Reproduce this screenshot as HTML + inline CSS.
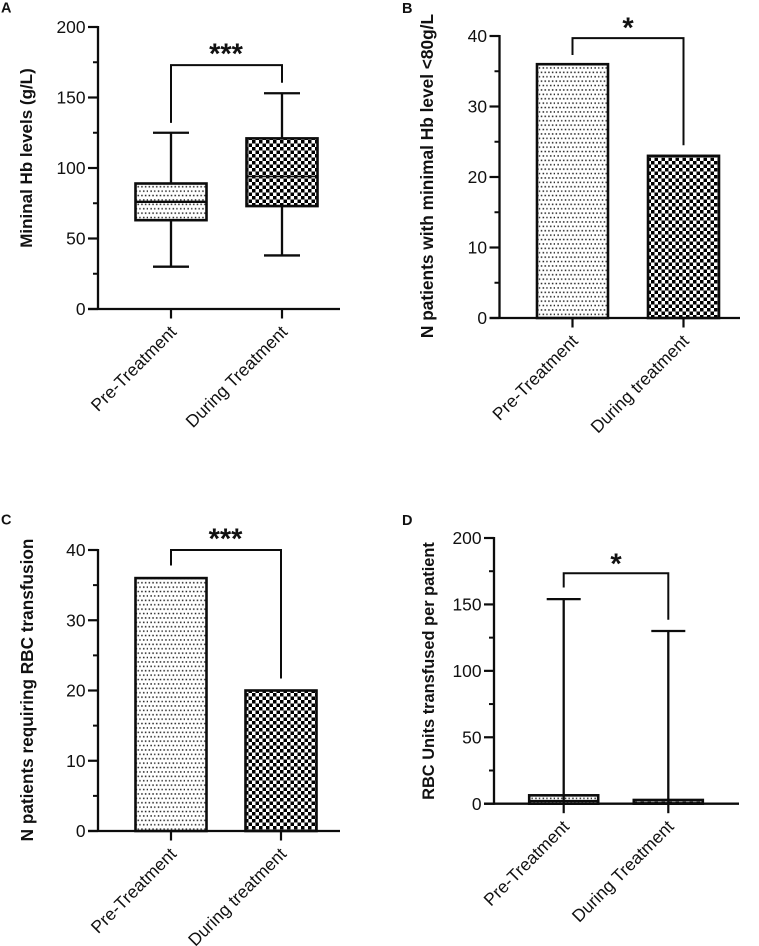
<!DOCTYPE html>
<html lang="en">
<head>
<meta charset="utf-8">
<title>Hb levels and RBC transfusion charts</title>
<style>
html,body{margin:0;padding:0;background:#fff;width:759px;height:946px;overflow:hidden}
svg{display:block}
text{font-family:"Liberation Sans",Arial,sans-serif;fill:#111}
</style>
</head>
<body>
<svg id="figure" xmlns="http://www.w3.org/2000/svg" width="759" height="946" viewBox="0 0 759 946">
<defs>
<pattern id="dots" patternUnits="userSpaceOnUse" width="7.4" height="8.8">
<rect width="7.4" height="8.8" fill="#fff"/>
<rect x="0.6" y="1.2" width="1.5" height="1.5" fill="#222"/>
<rect x="4.3" y="1.2" width="1.5" height="1.5" fill="#222"/>
<rect x="2.4" y="5.6" width="1.5" height="1.5" fill="#222"/>
<rect x="6.1" y="5.6" width="1.3" height="1.5" fill="#222"/>
</pattern>
<pattern id="checks" patternUnits="userSpaceOnUse" width="7" height="7">
<rect width="7" height="7" fill="#fff"/>
<rect width="3.5" height="3.5" fill="#000"/>
<rect x="3.5" y="3.5" width="3.5" height="3.5" fill="#000"/>
</pattern>
</defs>
</svg>
<script>
// ---- Data ----
const categoriesA = ['Pre-Treatment', 'During Treatment'];
const categoriesB = ['Pre-Treatment', 'During treatment'];
const categoriesC = ['Pre-Treatment', 'During treatment'];
const categoriesD = ['Pre-Treatment', 'During Treatment'];

const ticksA = [0, 50, 100, 150, 200];
const ticksB = [0, 10, 20, 30, 40];
const ticksC = [0, 10, 20, 30, 40];
const ticksD = [0, 50, 100, 150, 200];

const minA = [30, 38];
const q1A = [63, 73];
const medianA = [76, 94];
const q3A = [89, 121];
const maxA = [125, 153];

const valuesB = [36, 23];
const valuesC = [36, 20];

const minD = [0, 0];
const q1D = [0, 0];
const medianD = [2, 0.6];
const q3D = [6.3, 2.8];
const maxD = [154, 130];

// bracket height, left foot, right foot in axis units
const bracketA = [173, 132, 160.5];
const bracketB = [39.7, 37.3, 24.5];
const bracketC = [40, 37.8, 21.7];
const bracketD = [173.5, 162.7, 138.5];

const starsA = '***';
const starsB = '*';
const starsC = '***';
const starsD = '*';

// ---- Drawing ----
const svg = document.getElementById('figure');
const NS = 'http://www.w3.org/2000/svg';
const INK = '#0c0c0c';

function mk(tag, props, parent) {
  const node = document.createElementNS(NS, tag);
  Object.keys(props).forEach(function (k) { node.setAttribute(k, props[k]); });
  parent.appendChild(node);
  return node;
}
function line(x1, y1, x2, y2, w, parent) {
  return mk('line', {x1: x1, y1: y1, x2: x2, y2: y2, stroke: INK, 'stroke-width': w}, parent);
}

function drawAxes(p, ticks, categories) {
  const yScale = function (v) { return p.y0 - (v / ticks[ticks.length - 1]) * (p.y0 - p.yTop); };
  const xScale = function (i) { return p.cx0 + i * (p.cx1 - p.cx0); };

  const yAxis = line(p.axisX, p.yTop - 1, p.axisX, p.y0 + 1, 2.3, p.g);
  
  

  const xAxis = line(p.axisX - 10, p.y0, p.xEnd, p.y0, 2.3, p.g);
  
  

  ticks.forEach(function (t, i) {
    const y = yScale(t);
    const tick = line(p.axisX - 10, y, p.axisX, y, 2.2, p.g);
    
    

    const label = mk('text', {x: p.axisX - 12.5, y: y + 6.2, 'text-anchor': 'end', 'font-size': 17.4}, p.g);
    label.textContent = t;
    
    

    if (i < ticks.length - 1) {
      const my = yScale((t + ticks[i + 1]) / 2);
      const minor = line(p.axisX - 5, my, p.axisX, my, 2, p.g);
      
      
    }
  });

  categories.forEach(function (c, i) {
    const x = xScale(i);
    const tick = line(x, p.y0, x, p.y0 + 9.5, 2.2, p.g);
    
    

    const lx = x + 6.5;
    const ly = p.y0 + 24;
    const label = mk('text', {x: lx, y: ly, 'text-anchor': 'end', 'font-size': 17.5, transform: 'rotate(-45 ' + lx + ' ' + ly + ')'}, p.g);
    label.textContent = c;
    
    
  });

  const title = mk('text', {x: p.titleX, y: p.titleY, 'text-anchor': 'middle', 'font-size': p.titleSize, 'font-weight': 'bold', transform: 'rotate(-90 ' + p.titleX + ' ' + p.titleY + ')'}, p.g);
  title.textContent = p.title;
  
  

  const letter = mk('text', {x: p.letterX, y: p.letterY, 'font-size': 14.5, 'font-weight': 'bold'}, p.g);
  letter.textContent = p.letter;
  
  

  return {x: xScale, y: yScale};
}

function drawBars(p, s, values) {
  values.forEach(function (v, i) {
    const cx = s.x(i);
    const bar = mk('rect', {x: cx - p.halfW, y: s.y(v), width: p.halfW * 2, height: p.y0 - s.y(v), fill: i === 0 ? 'url(#dots)' : 'url(#checks)', stroke: INK, 'stroke-width': 2.6}, p.g);
    
    
  });
}

function drawBoxes(p, s, mins, q1s, medians, q3s, maxs) {
  mins.forEach(function (m, i) {
    const cx = s.x(i);
    const whisker = line(cx, s.y(maxs[i]), cx, s.y(m) , 2.3, p.g);
    
    

    const capHigh = line(cx - p.capW, s.y(maxs[i]), cx + p.capW, s.y(maxs[i]), 2.3, p.g);
    
    

    if (p.showLowCap) {
      const capLow = line(cx - p.capW, s.y(m), cx + p.capW, s.y(m), 2.3, p.g);
      
      
    }

    const box = mk('rect', {x: cx - p.halfW, y: s.y(q3s[i]), width: p.halfW * 2, height: s.y(q1s[i]) - s.y(q3s[i]), fill: i === 0 ? 'url(#dots)' : 'url(#checks)', stroke: INK, 'stroke-width': 2.6}, p.g);
    
    

    const median = line(cx - p.halfW, s.y(medians[i]), cx + p.halfW, s.y(medians[i]), i === 0 ? 2.4 : 1.6, p.g);
    
    

    if (p.whiskerOverBox) {
      const over = line(cx, s.y(q3s[i]), cx, p.y0, 2.3, p.g);
      
      
    }
  });
}

function drawBracket(p, s, b, stars) {
  const x0 = s.x(0), x1 = s.x(1);
  const d = 'M' + x0 + ' ' + s.y(b[1]) + 'V' + s.y(b[0]) + 'H' + x1 + 'V' + s.y(b[2]);
  const br = mk('path', {d: d, fill: 'none', stroke: INK, 'stroke-width': 2}, p.g);
  
  

  const star = mk('text', {x: (x0 + x1) / 2 + p.starDx, y: s.y(b[0]) + p.starDy, 'text-anchor': 'middle', 'font-size': 29, 'font-weight': 'bold'}, p.g);
  star.textContent = stars;
  
  
}

function panel(name, cfg) {
  const g = mk('g', {}, svg);
  
  
  cfg.g = g;
  return cfg;
}

const pA = panel('panel-a-box-plot', {letter: 'A', letterX: 1, letterY: 12.5, title: 'Mininal Hb levels (g/L)', titleX: 32, titleY: 158, titleSize: 17, axisX: 98, y0: 309, yTop: 27, xEnd: 340, cx0: 171, cx1: 282, halfW: 35.5, capW: 18, showLowCap: true, starDx: -0.5, starDy: -1.5});
const sA = drawAxes(pA, ticksA, categoriesA);
drawBoxes(pA, sA, minA, q1A, medianA, q3A, maxA);
drawBracket(pA, sA, bracketA, starsA);

const pB = panel('panel-b-bar-chart', {letter: 'B', letterX: 402, letterY: 13, title: 'N patients with minimal Hb level <80g/L', titleX: 433, titleY: 176, titleSize: 17.3, axisX: 499.5, y0: 318, yTop: 36, xEnd: 740, cx0: 572.5, cx1: 683.5, halfW: 35.5, starDx: 0, starDy: -0.5});
const sB = drawAxes(pB, ticksB, categoriesB);
drawBars(pB, sB, valuesB);
drawBracket(pB, sB, bracketB, starsB);

const pC = panel('panel-c-bar-chart', {letter: 'C', letterX: 1, letterY: 524.5, title: 'N patients requiring RBC transfusion', titleX: 33, titleY: 690, titleSize: 17.2, axisX: 98, y0: 831, yTop: 550, xEnd: 340, cx0: 171, cx1: 281, halfW: 35.5, starDx: -0.5, starDy: -1.5});
const sC = drawAxes(pC, ticksC, categoriesC);
drawBars(pC, sC, valuesC);
drawBracket(pC, sC, bracketC, starsC);

const pD = panel('panel-d-box-plot', {letter: 'D', letterX: 402, letterY: 525, title: 'RBC Units transfused per patient', titleX: 434, titleY: 671, titleSize: 16.4, axisX: 494, y0: 803.7, yTop: 538, xEnd: 739, cx0: 563.7, cx1: 668.3, halfW: 34.5, capW: 17, showLowCap: false, whiskerOverBox: true, starDx: 0, starDy: 0.5});
const sD = drawAxes(pD, ticksD, categoriesD);
drawBoxes(pD, sD, minD, q1D, medianD, q3D, maxD);
drawBracket(pD, sD, bracketD, starsD);
</script>
</body>
</html>
